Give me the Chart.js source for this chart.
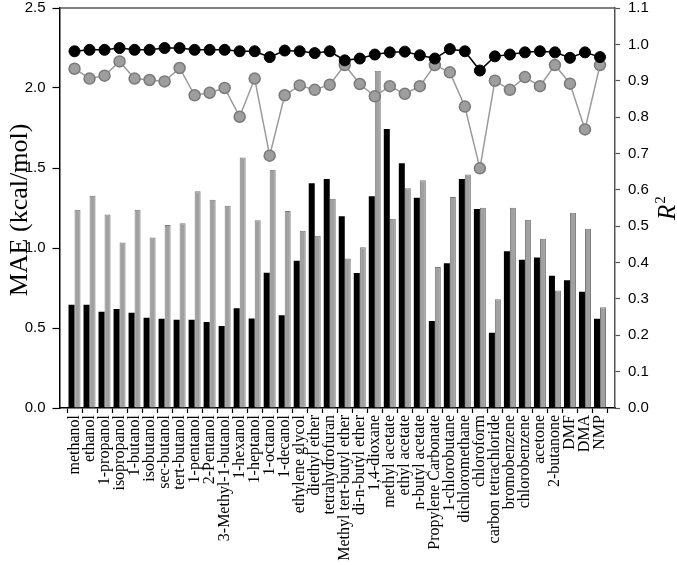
<!DOCTYPE html>
<html>
<head>
<meta charset="utf-8">
<script src="https://cdn.jsdelivr.net/npm/chart.js@4"></script>
<style>
html,body{margin:0;padding:0;background:#fff;}
#wrap{width:677px;height:565px;position:relative;}
</style>
</head>
<body>
<div id="wrap"><canvas id="c" width="677" height="565"></canvas></div>
<script>
const solvents = ["methanol","ethanol","1-propanol","isopropanol","1-butanol","isobutanol","sec-butanol","tert-butanol","1-pentanol","2-Pentanol","3-Methyl-1-butanol","1-hexanol","1-heptanol","1-octanol","1-decanol","ethylene glycol","diethyl ether","tetrahydrofuran","Methyl tert-butyl ether","di-n-butyl ether","1,4-dioxane","methyl acetate","ethyl acetate","n-butyl acetate","Propylene Carbonate","1-chlorobutane","dichloromethane","chloroform","carbon tetrachloride","bromobenzene","chlorobenzene","acetone","2-butanone","DMF","DMA","NMP"];

const maeBlack = [0.646,0.646,0.602,0.619,0.596,0.564,0.558,0.552,0.552,0.537,0.512,0.623,0.560,0.846,0.579,0.920,1.404,1.431,1.198,0.844,1.323,1.744,1.529,1.314,0.544,0.904,1.431,1.244,0.471,0.979,0.927,0.941,0.827,0.798,0.727,0.558];
const maeGray  = [1.239,1.327,1.210,1.035,1.239,1.066,1.144,1.154,1.354,1.302,1.264,1.566,1.173,1.489,1.231,1.108,1.077,1.308,0.935,1.004,2.108,1.183,1.373,1.423,0.881,1.319,1.460,1.252,0.679,1.252,1.177,1.058,0.735,1.221,1.121,0.629];
const r2Black  = [0.981,0.985,0.985,0.990,0.985,0.985,0.990,0.990,0.985,0.985,0.985,0.981,0.981,0.965,0.983,0.981,0.976,0.981,0.956,0.961,0.972,0.978,0.980,0.970,0.961,0.987,0.981,0.928,0.967,0.972,0.978,0.981,0.978,0.963,0.978,0.965];
const r2Gray   = [0.933,0.906,0.914,0.953,0.906,0.902,0.898,0.935,0.860,0.867,0.880,0.801,0.906,0.694,0.860,0.887,0.875,0.889,0.943,0.891,0.857,0.885,0.864,0.885,0.943,0.923,0.829,0.659,0.900,0.875,0.910,0.885,0.943,0.892,0.766,0.943];

const maeTicks = [0,0.5,1.0,1.5,2.0,2.5];
const r2Ticks = [0,0.1,0.2,0.3,0.4,0.5,0.6,0.7,0.8,0.9,1.0,1.1];

const pts = arr => arr.map((v,i)=>({x:i,y:v}));

const frame = {
  id:'frame',
  afterDraw(chart){
    const {ctx, chartArea:a} = chart;
    ctx.save();
    ctx.strokeStyle = '#555';
    ctx.lineWidth = 1.5;
    ctx.beginPath();
    ctx.moveTo(a.left, a.top);
    ctx.lineTo(a.right, a.top);
    ctx.stroke();
    // left title
    ctx.fillStyle = '#000';
    ctx.save();
    ctx.translate(20, 210);
    ctx.rotate(-Math.PI/2);
    ctx.font = '26px "Liberation Serif"';
    ctx.textAlign = 'center';
    ctx.textBaseline = 'middle';
    ctx.fillText('MAE (kcal/mol)', 0, 0);
    ctx.restore();
    // right title R^2
    ctx.save();
    ctx.translate(675, 220);
    ctx.rotate(-Math.PI/2);
    ctx.textAlign = 'left';
    ctx.textBaseline = 'alphabetic';
    ctx.font = 'italic 25px "Liberation Serif"';
    ctx.fillText('R', 0, 0);
    const w = ctx.measureText('R').width;
    ctx.font = '15px "Liberation Serif"';
    ctx.fillText('2', w + 1, -10);
    ctx.restore();
    ctx.restore();
  }
};

new Chart(document.getElementById('c'), {
  type: 'bar',
  data: {
    datasets: [
      {type:'line', label:'R2 black', data: pts(r2Black), yAxisID:'y1', borderColor:'#000', backgroundColor:'#000', borderWidth:1.5, pointRadius:5.5, pointBorderWidth:1, pointBorderColor:'#000', pointBackgroundColor:'#000', order:0},
      {type:'line', label:'R2 gray', data: pts(r2Gray), yAxisID:'y1', borderColor:'#9a9a9a', backgroundColor:'#9a9a9a', borderWidth:1.5, pointRadius:5.5, pointBorderWidth:1.5, pointBorderColor:'#7a7a7a', pointBackgroundColor:'#9e9e9e', order:1},
      {label:'MAE black', data: pts(maeBlack), yAxisID:'y', backgroundColor:'#000', borderColor:'#000', borderWidth:0, categoryPercentage:0.8, barPercentage:1.0, order:2},
      {label:'MAE gray', data: pts(maeGray), yAxisID:'y', backgroundColor:'#a0a0a0', borderColor:'#7a7a7a', borderWidth:1, categoryPercentage:0.8, barPercentage:1.0, order:3}
    ]
  },
  options: {
    responsive:false,
    animation:false,
    events:[],
    layout:{padding:{top:8,left:0,right:0,bottom:0}},
    plugins:{legend:{display:false}, tooltip:{enabled:false}},
    scales:{
      x:{
        type:'linear', min:-1, max:36, offset:false,
        afterBuildTicks(s){ s.ticks = solvents.map((_,i)=>({value:i})); },
        afterFit(s){ s.height = 157; s.paddingLeft = 0; s.paddingRight = 0; },
        grid:{drawOnChartArea:false, drawTicks:true, tickLength:5, tickColor:'#000', tickWidth:1.2},
        border:{display:true, color:'#000', width:1.5},
        ticks:{
          autoSkip:false, maxRotation:90, minRotation:90, padding:2,
          color:'#000', font:{family:'"Liberation Serif"', size:16},
          callback:(v)=> solvents[v] !== undefined ? solvents[v] : ''
        }
      },
      y:{
        position:'left', min:0, max:2.5,
        afterBuildTicks(s){ s.ticks = maeTicks.map(v=>({value:v})); },
        afterFit(s){ s.width = 59.5; s.paddingTop = 0; s.paddingBottom = 0; },
        grid:{drawOnChartArea:false, drawTicks:true, tickLength:7, tickColor:'#000', tickWidth:1.2},
        border:{display:true, color:'#000', width:1.5},
        ticks:{padding:7, color:'#000', font:{family:'"Liberation Sans"', size:15}, callback:v=>v.toFixed(1)}
      },
      y1:{
        position:'right', min:0, max:1.1,
        afterBuildTicks(s){ s.ticks = r2Ticks.map(v=>({value:v})); },
        afterFit(s){ s.width = 62; s.paddingTop = 0; s.paddingBottom = 0; },
        grid:{drawOnChartArea:false, drawTicks:true, tickLength:5, tickColor:'#555', tickWidth:1.2},
        border:{display:true, color:'#555', width:1.5},
        ticks:{padding:8, color:'#000', font:{family:'"Liberation Sans"', size:15}, callback:v=>v.toFixed(1)}
      }
    }
  },
  plugins:[frame]
});
</script>
</body>
</html>
